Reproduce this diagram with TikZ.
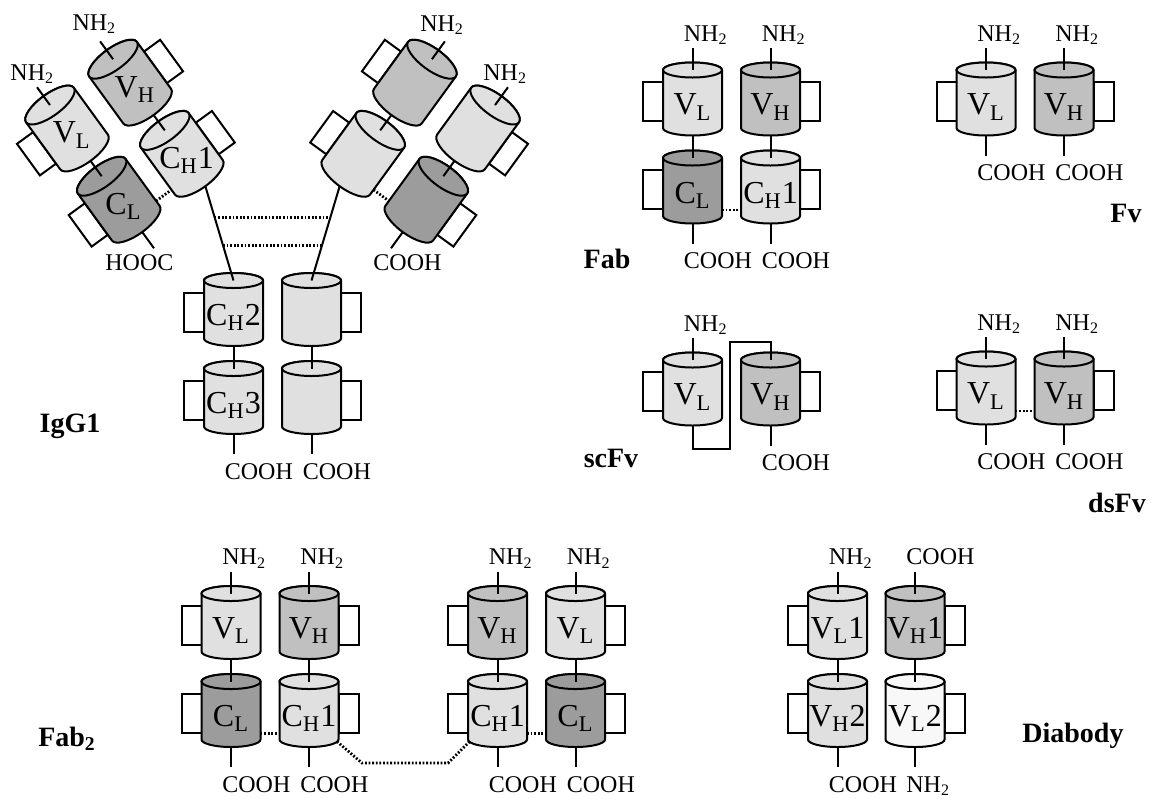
\documentclass[tikz,border=0pt]{standalone}
\usepackage{fontspec}
\setmainfont{Liberation Serif}
\usetikzlibrary{positioning,calc}

\definecolor{lightdom}{HTML}{E0E0E0}
\definecolor{middom}{HTML}{C0C0C0}
\definecolor{darkdom}{HTML}{9C9C9C}
\definecolor{paledom}{HTML}{F8F8F8}

\tikzset{
  cyl/.style={draw, line width=1pt},
  flap/.style={draw, line width=1pt, fill=white},
  link/.style={line width=1pt},
  dots/.style={line width=1.4pt, dash pattern=on 0.9pt off 0.9pt},
  dlab/.style={font=\fontsize{16}{18}\selectfont, inner sep=0pt},
  tag/.style={font=\fontsize{12}{14}\selectfont, inner sep=0pt},
  fraglab/.style={font=\fontsize{14}{16}\selectfont\bfseries, inner sep=0pt}
}

% half height of the end ellipses
\newcommand{\ry}{7.5}

% one domain: a cylinder with a flap on one side
% #1 name, #2 centre, #3 fill, #4 flap side (-1 left, 1 right), #5 label
\newcommand{\domain}[5]{%
  \begin{scope}[shift={#2}]
    \draw[flap] (#4*29.5,-17) rectangle (#4*49.5,22);
    \filldraw[cyl, fill=#3] (-29.5,-29) -- (-29.5,29)
      arc[start angle=180, end angle=0, x radius=29.5, y radius=\ry]
      -- (29.5,-29)
      arc[start angle=0, end angle=-180, x radius=29.5, y radius=\ry] -- cycle;
    \draw[cyl, fill=#3] (0,-29) ellipse[x radius=29.5, y radius=\ry];
    \coordinate (#1) at (0,0);
    \coordinate (#1-n) at (0,-29);
    \coordinate (#1-nn) at (0,-51);
    \coordinate (#1-s) at (0,{29+\ry});
    \coordinate (#1-ss) at (0,{49+\ry});
    \coordinate (#1-w) at (-29.5,23);
    \coordinate (#1-e) at (29.5,23);
    \coordinate (#1-sw) at (-28,31);
    \coordinate (#1-se) at (28,31);
    \node[dlab] (#1-lab) at (0,8) {#5};
  \end{scope}}

% free chain ends with their text
\newcommand{\topend}[3][-9,-7]{%
  \draw[link] (#2-n) -- (#2-nn);
  \node[tag, anchor=base west] (#2-top) at ($(#2-nn)+(#1)$) {#3};}
\newcommand{\botend}[3][-9,25]{%
  \draw[link] (#2-s) -- (#2-ss);
  \node[tag, anchor=base west] (#2-bot) at ($(#2-ss)+(#1)$) {#3};}

\newcommand{\NH}{NH\textsubscript{2}}

\begin{document}
\begin{tikzpicture}[x=0.5pt, y=-0.5pt]
\useasboundingbox (0,0) rectangle (1154,798);

%% IgG1
\begin{scope}[shift={(67,128.5)}, rotate=36]
  \renewcommand{\ry}{11}
  \domain{igl-vl}{(0,0)}{lightdom}{-1}{V\textsubscript{L}}
  \domain{igl-vh}{(78,0)}{middom}{1}{V\textsubscript{H}}
  \domain{igl-cl}{(0,88)}{darkdom}{-1}{C\textsubscript{L}}
  \domain{igl-ch}{(78,88)}{lightdom}{1}{C\textsubscript{H}1}
\end{scope}
\begin{scope}[shift={(478,128.5)}, rotate=-36]
  \renewcommand{\ry}{11}
  \domain{igr-vh}{(-78,0)}{middom}{-1}{}
  \domain{igr-vl}{(0,0)}{lightdom}{1}{}
  \domain{igr-ch}{(-78,88)}{lightdom}{-1}{}
  \domain{igr-cl}{(0,88)}{darkdom}{1}{}
\end{scope}
\domain{ig-ch2l}{(233.5,309.5)}{lightdom}{-1}{C\textsubscript{H}2}
\domain{ig-ch2r}{(311.5,309.5)}{lightdom}{1}{}
\domain{ig-ch3l}{(233.5,397.5)}{lightdom}{-1}{C\textsubscript{H}3}
\domain{ig-ch3r}{(311.5,397.5)}{lightdom}{1}{}

\draw[link] (igl-vl-s) -- (igl-cl-n);
\draw[link] (igl-vh-s) -- (igl-ch-n);
\draw[link] (igr-vl-s) -- (igr-cl-n);
\draw[link] (igr-vh-s) -- (igr-ch-n);
\draw[dots] (igl-cl-e) -- (igl-ch-w);
\draw[dots] (igr-ch-e) -- (igr-cl-w);
% hinge
\draw[link] (igl-ch-s) -- (ig-ch2l-n);
\draw[link] (igr-ch-s) -- (ig-ch2r-n);
\draw[dots] ($(igl-ch-s)!0.33!(ig-ch2l-n)$) -- ($(igr-ch-s)!0.33!(ig-ch2r-n)$);
\draw[dots] ($(igl-ch-s)!0.63!(ig-ch2l-n)$) -- ($(igr-ch-s)!0.63!(ig-ch2r-n)$);
\draw[link] (ig-ch2l-s) -- (ig-ch3l-n);
\draw[link] (ig-ch2r-s) -- (ig-ch3r-n);

\topend[-27,-7]{igl-vl}{\NH}
\topend[-28,-11]{igl-vh}{\NH}
\topend[-25,-10]{igr-vh}{\NH}
\topend[-25,-7]{igr-vl}{\NH}
\botend[-49,22]{igl-cl}{HOOC}
\botend[-18,22]{igr-cl}{COOH}
\botend{ig-ch3l}{COOH}
\botend{ig-ch3r}{COOH}
\node[fraglab, anchor=base] (igg) at (70,432) {IgG1};

%% Fab
\domain{fab-vl}{(692.5,99)}{lightdom}{-1}{V\textsubscript{L}}
\domain{fab-vh}{(770.5,99)}{middom}{1}{V\textsubscript{H}}
\domain{fab-cl}{(692.5,187)}{darkdom}{-1}{C\textsubscript{L}}
\domain{fab-ch}{(770.5,187)}{lightdom}{1}{C\textsubscript{H}1}
\draw[link] (fab-vl-s) -- (fab-cl-n);
\draw[link] (fab-vh-s) -- (fab-ch-n);
\draw[dots] (fab-cl-e) -- (fab-ch-w);
\topend{fab-vl}{\NH}
\topend{fab-vh}{\NH}
\botend{fab-cl}{COOH}
\botend{fab-ch}{COOH}
\node[fraglab, anchor=base] (fab) at (607,268) {Fab};

%% Fv
\domain{fv-vl}{(986,99)}{lightdom}{-1}{V\textsubscript{L}}
\domain{fv-vh}{(1064,99)}{middom}{1}{V\textsubscript{H}}
\topend{fv-vl}{\NH}
\topend{fv-vh}{\NH}
\botend{fv-vl}{COOH}
\botend{fv-vh}{COOH}
\node[fraglab, anchor=base] (fv) at (1126,222) {Fv};

%% scFv
\domain{sc-vl}{(692.5,389)}{lightdom}{-1}{V\textsubscript{L}}
\domain{sc-vh}{(770.5,389)}{middom}{1}{V\textsubscript{H}}
\coordinate (sc-a) at (730,449);
\coordinate (sc-b) at (730,342);
\draw[link] (sc-vl-s) |- (sc-a) -- (sc-b) -| (sc-vh-n);
\topend{sc-vl}{\NH}
\botend{sc-vh}{COOH}
\node[fraglab, anchor=base] (scfv) at (611,467) {scFv};

%% dsFv
\domain{ds-vl}{(986,388)}{lightdom}{-1}{V\textsubscript{L}}
\domain{ds-vh}{(1064,388)}{middom}{1}{V\textsubscript{H}}
\draw[dots] (ds-vl-e) -- (ds-vh-w);
\topend{ds-vl}{\NH}
\topend{ds-vh}{\NH}
\botend{ds-vl}{COOH}
\botend{ds-vh}{COOH}
\node[fraglab, anchor=base] (dsfv) at (1117,512) {dsFv};

%% Fab2
\domain{f2-vl1}{(231,622.5)}{lightdom}{-1}{V\textsubscript{L}}
\domain{f2-vh1}{(309,622.5)}{middom}{1}{V\textsubscript{H}}
\domain{f2-cl1}{(231,710.5)}{darkdom}{-1}{C\textsubscript{L}}
\domain{f2-ch1}{(309,710.5)}{lightdom}{1}{C\textsubscript{H}1}
\domain{f2-vh2}{(497.5,622.5)}{middom}{-1}{V\textsubscript{H}}
\domain{f2-vl2}{(575.5,622.5)}{lightdom}{1}{V\textsubscript{L}}
\domain{f2-ch2}{(497.5,710.5)}{lightdom}{-1}{C\textsubscript{H}1}
\domain{f2-cl2}{(575.5,710.5)}{darkdom}{1}{C\textsubscript{L}}
\draw[link] (f2-vl1-s) -- (f2-cl1-n);
\draw[link] (f2-vh1-s) -- (f2-ch1-n);
\draw[link] (f2-vh2-s) -- (f2-ch2-n);
\draw[link] (f2-vl2-s) -- (f2-cl2-n);
\draw[dots] (f2-cl1-e) -- (f2-ch1-w);
\draw[dots] (f2-ch2-e) -- (f2-cl2-w);
\draw[dots] (f2-ch1-se) -- ++(25,21.5) -- ++(86,0) -- (f2-ch2-sw);
\topend{f2-vl1}{\NH}
\topend{f2-vh1}{\NH}
\topend{f2-vh2}{\NH}
\topend{f2-vl2}{\NH}
\botend{f2-cl1}{COOH}
\botend{f2-ch1}{COOH}
\botend{f2-ch2}{COOH}
\botend{f2-cl2}{COOH}
\node[fraglab, anchor=base] (fab2) at (67,746) {Fab\textsubscript{2}};

%% Diabody
\domain{db-vl1}{(837.5,622.5)}{lightdom}{-1}{V\textsubscript{L}1}
\domain{db-vh1}{(915,622.5)}{middom}{1}{V\textsubscript{H}1}
\domain{db-vh2}{(837.5,710.5)}{lightdom}{-1}{V\textsubscript{H}2}
\domain{db-vl2}{(915,710.5)}{paledom}{1}{V\textsubscript{L}2}
\draw[link] (db-vl1-s) -- (db-vh2-n);
\draw[link] (db-vh1-s) -- (db-vl2-n);
\topend{db-vl1}{\NH}
\topend{db-vh1}{COOH}
\botend{db-vh2}{COOH}
\botend{db-vl2}{\NH}
\node[fraglab, anchor=base west] (diabody) at (1022,742) {Diabody};
\end{tikzpicture}
\end{document}
